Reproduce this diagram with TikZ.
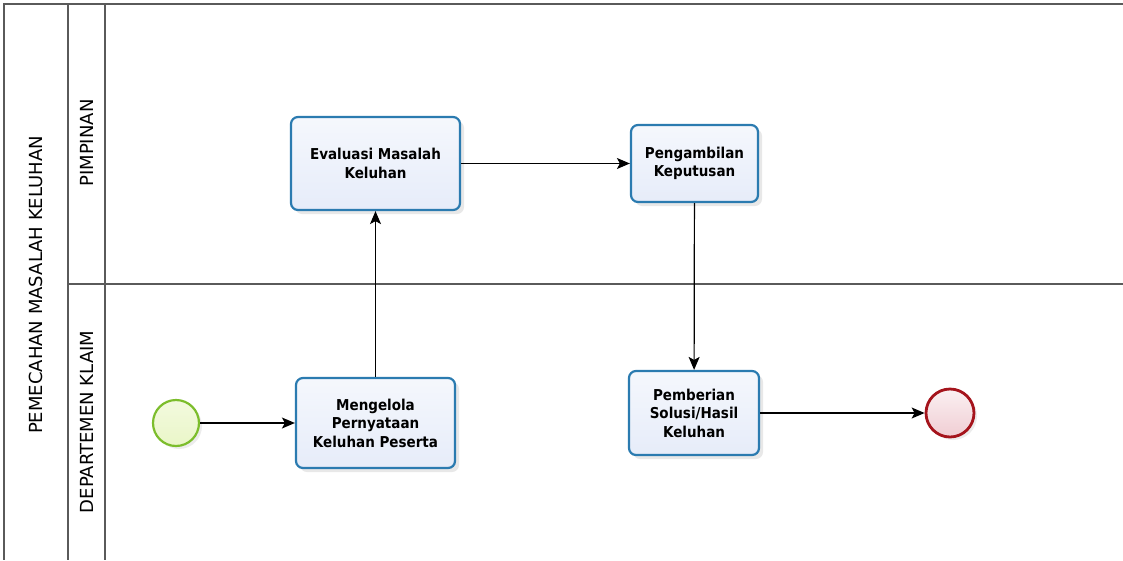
\documentclass[tikz,border=0pt]{standalone}
\usepackage{fontspec}
\setmainfont{DejaVu Sans Condensed}
\newfontfamily\lebar{DejaVu Sans}
\usetikzlibrary{arrows.meta,shadows}
\definecolor{bordeazul}{HTML}{2B7BB0}
\definecolor{rellenoazul}{HTML}{E6ECF9}
\definecolor{bordeverde}{HTML}{7CBD2C}
\definecolor{rellenoverde}{HTML}{EAF6C8}
\definecolor{borderojo}{HTML}{A5141C}
\definecolor{rellenorojo}{HTML}{F0CDD3}
\definecolor{linea}{HTML}{5A5A5A}
\tikzset{
  tarea/.style={draw=bordeazul, line width=2.2pt, rounded corners=7pt,
    top color=white!60!rellenoazul, bottom color=rellenoazul,
    align=center, font=\fontsize{15}{18.5}\selectfont\bfseries,
    drop shadow={opacity=0.18, shadow xshift=4pt, shadow yshift=-4pt}},
  inicio/.style={circle, draw=bordeverde, line width=2.2pt, minimum size=46pt,
    top color=white!40!rellenoverde, bottom color=rellenoverde,
    drop shadow={opacity=0.15, shadow xshift=3pt, shadow yshift=-3pt}},
  fin/.style={circle, draw=borderojo, line width=2.8pt, minimum size=48pt,
    top color=white!70!rellenorojo, bottom color=rellenorojo,
    drop shadow={opacity=0.15, shadow xshift=3pt, shadow yshift=-3pt}},
  flujo/.style={-{Stealth[length=13pt,width=11pt,inset=3pt]}, line width=1.2pt},
  carril/.style={rotate=90, font=\lebar\fontsize{18}{20}\selectfont}
}
\begin{document}
\begin{tikzpicture}[x=1pt,y=-1pt]
  \useasboundingbox (0,0) rectangle (1123,560);

  % Dibujar la piscina y los carriles
  \draw[linea, line width=1.2pt] (1123,4) -- (4,4) -- (4,560);
  \draw[linea, line width=1.2pt] (68,4) -- (68,560);
  \draw[linea, line width=1.2pt] (105,4) -- (105,560);
  \draw[linea, line width=1.2pt] (68,284) -- (1123,284);
  \node[carril] (piscina) at (36,285) {PEMECAHAN MASALAH KELUHAN};
  \node[carril] (pimpinan) at (87,143) {PIMPINAN};
  \node[carril] (klaim) at (87,422) {DEPARTEMEN KLAIM};

  % Dibujar los eventos y las tareas
  \node[inicio] (mulai) at (176,423) {};
  \node[tarea, minimum width=159pt, minimum height=90pt] (kelola) at (375.5,423)
    {Mengelola\\Pernyataan\\Keluhan Peserta};
  \node[tarea, minimum width=169pt, minimum height=93pt] (evaluasi) at (375.5,163.5)
    {Evaluasi Masalah\\Keluhan};
  \node[tarea, minimum width=127pt, minimum height=77pt] (ambil) at (694.5,163.5)
    {Pengambilan\\Keputusan};
  \node[tarea, minimum width=130pt, minimum height=84pt] (beri) at (694,413)
    {Pemberian\\Solusi/Hasil\\Keluhan};
  \node[fin] (selesai) at (950,413) {};

  % Dibujar los flujos
  \draw[flujo] (mulai) -- (kelola);
  \draw[flujo] (kelola) -- (evaluasi);
  \draw[flujo] (evaluasi) -- (ambil);
  \draw[flujo] (ambil) -- (beri);
  \draw[flujo] (beri) -- (selesai);

\end{tikzpicture}
\end{document}
